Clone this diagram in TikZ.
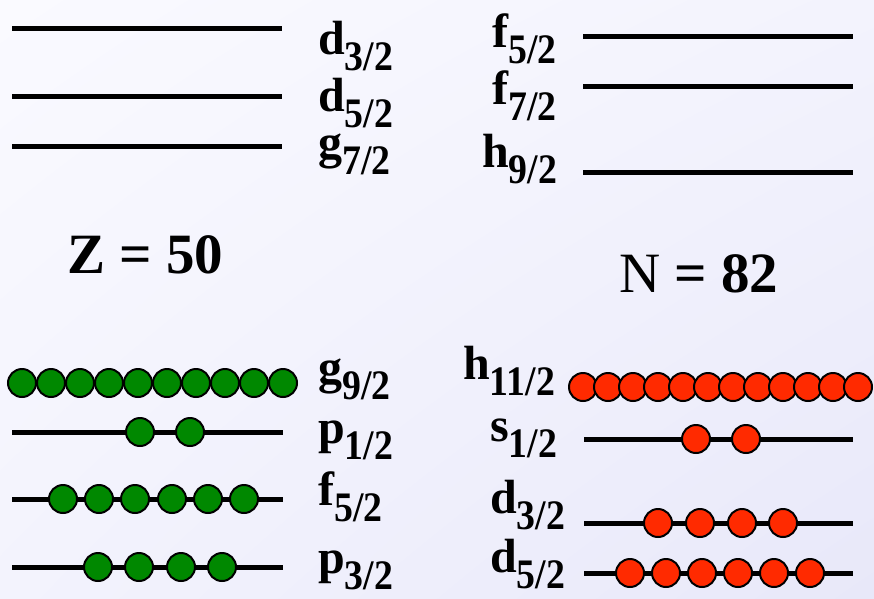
\documentclass[tikz,border=0pt]{standalone}
\usepackage{fontspec}
\usepackage{graphicx}
\usetikzlibrary{shadings}
\setmainfont{Liberation Serif}[BoldFont={Liberation Serif Bold}]
\definecolor{ballgreen}{RGB}{0,136,0}
\definecolor{ballred}{RGB}{255,42,0}
\definecolor{bgA}{RGB}{250,250,255}
\definecolor{bgB}{RGB}{243,243,253}
\definecolor{bgC}{RGB}{232,232,249}
\newcommand{\lvlab}[2]{{\fontsize{48}{48}\selectfont\bfseries #1}\raisebox{-16pt}{\fontsize{42}{42}\selectfont\bfseries\scalebox{0.9}[1]{#2}}}
\tikzset{
  lvline/.style={line width=5pt},
  ball/.style={circle, draw=black, line width=2pt, minimum size=28pt, inner sep=0pt},
  gball/.style={ball, fill=ballgreen},
  rball/.style={ball, fill=ballred},
  lbl/.style={anchor=base west, inner sep=0pt},
  magic/.style={anchor=base west, inner sep=0pt, font=\fontsize{57}{57}\selectfont\bfseries}
}
\begin{document}
\begin{tikzpicture}[x=1pt,y=-1pt]
\useasboundingbox (0,0) rectangle (874,598);
\shade[upper left=bgA, upper right=bgB, lower left=bgB, lower right=bgC] (0,0) rectangle (874,598);

% ---- upper levels, left (Z) ----
\coordinate (zd3a) at (12,28);  \coordinate (zd3b) at (282,28);
\coordinate (zd5a) at (12,96);  \coordinate (zd5b) at (282,96);
\coordinate (zg7a) at (12,146); \coordinate (zg7b) at (282,146);
\draw[lvline] (zd3a) -- (zd3b);
\draw[lvline] (zd5a) -- (zd5b);
\draw[lvline] (zg7a) -- (zg7b);
\node[lbl] (lzd3) at (318,54)  {\lvlab{d}{3/2}};
\node[lbl] (lzd5) at (318,111) {\lvlab{d}{5/2}};
\node[lbl] (lzg7) at (318,158) {\lvlab{g}{7/2}};

% ---- upper levels, right (N) ----
\coordinate (nf5a) at (583,36);  \coordinate (nf5b) at (853,36);
\coordinate (nf7a) at (583,86);  \coordinate (nf7b) at (853,86);
\coordinate (nh9a) at (583,172); \coordinate (nh9b) at (853,172);
\draw[lvline] (nf5a) -- (nf5b);
\draw[lvline] (nf7a) -- (nf7b);
\draw[lvline] (nh9a) -- (nh9b);
\node[lbl] (lnf5) at (492,47)  {\lvlab{f}{5/2}};
\node[lbl] (lnf7) at (492,104) {\lvlab{f}{7/2}};
\node[lbl] (lnh9) at (482,167) {\lvlab{h}{9/2}};

% ---- magic numbers ----
\node[magic] (zmagic) at (67,273) {Z = 50};
\node[magic] (nmagic) at (619,292) {{\mdseries N} = 82};

% ---- lower levels, left (Z) ----
\foreach \x [count=\i] in {22,51,80,109,138,167,196,225,254,283}
  \node[gball] (zg9-\i) at (\x,383) {};
\node[lbl] (lzg9) at (318,383) {\lvlab{g}{9/2}};

\coordinate (zp1a) at (12,432); \coordinate (zp1b) at (283,432);
\draw[lvline] (zp1a) -- (zp1b);
\foreach \x [count=\i] in {140,190}
  \node[gball] (zp1-\i) at (\x,432) {};
\node[lbl] (lzp1) at (318,443) {\lvlab{p}{1/2}};

\coordinate (zf5a) at (12,499); \coordinate (zf5b) at (283,499);
\draw[lvline] (zf5a) -- (zf5b);
\foreach \x [count=\i] in {63,99,135,172,208,244}
  \node[gball] (zf5-\i) at (\x,499) {};
\node[lbl] (lzf5) at (318,505) {\lvlab{f}{5/2}};

\coordinate (zp3a) at (12,567); \coordinate (zp3b) at (283,567);
\draw[lvline] (zp3a) -- (zp3b);
\foreach \x [count=\i] in {98,139,181,222}
  \node[gball] (zp3-\i) at (\x,567) {};
\node[lbl] (lzp3) at (318,573) {\lvlab{p}{3/2}};

% ---- lower levels, right (N) ----
\foreach \x [count=\i] in {583,608,633,658,683,708,733,758,783,808,833,858}
  \node[rball] (nh11-\i) at (\x,387) {};
\node[lbl] (lnh11) at (463,379) {\lvlab{h}{11/2}};

\coordinate (ns1a) at (584,439); \coordinate (ns1b) at (853,439);
\draw[lvline] (ns1a) -- (ns1b);
\foreach \x [count=\i] in {696,746}
  \node[rball] (ns1-\i) at (\x,439) {};
\node[lbl] (lns1) at (490,441) {\lvlab{s}{1/2}};

\coordinate (nd3a) at (584,523); \coordinate (nd3b) at (853,523);
\draw[lvline] (nd3a) -- (nd3b);
\foreach \x [count=\i] in {658,700,742,783}
  \node[rball] (nd3-\i) at (\x,523) {};
\node[lbl] (lnd3) at (490,513) {\lvlab{d}{3/2}};

\coordinate (nd5a) at (584,573); \coordinate (nd5b) at (853,573);
\draw[lvline] (nd5a) -- (nd5b);
\foreach \x [count=\i] in {630,666,702,738,774,810}
  \node[rball] (nd5-\i) at (\x,573) {};
\node[lbl] (lnd5) at (490,572) {\lvlab{d}{5/2}};
\end{tikzpicture}
\end{document}
